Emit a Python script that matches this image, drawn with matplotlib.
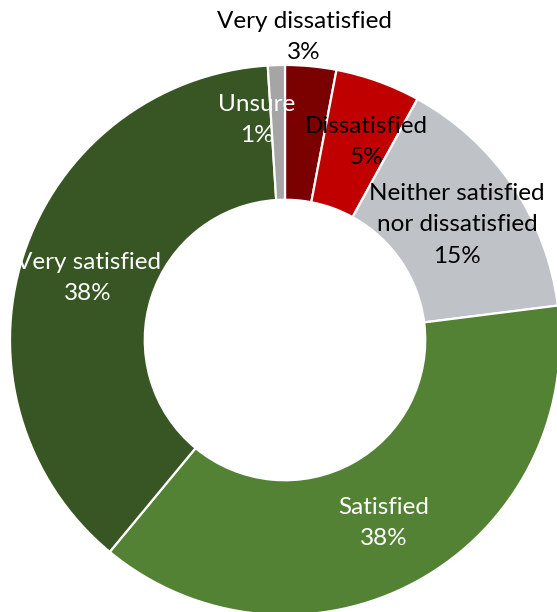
import numpy as np
import matplotlib
matplotlib.use("Agg")
import matplotlib.pyplot as plt

categories = ["Very dissatisfied", "Dissatisfied", "Neither satisfied\nnor dissatisfied",
              "Satisfied", "Very satisfied", "Unsure"]
values = [3, 5, 15, 38, 38, 1]
colors = ["#7B0000", "#C00000", "#BFC3C7", "#548235", "#375623", "#A5A5A5"]
text_colors = ["black", "black", "black", "white", "white", "white"]
label_dist = [1.104, 0.78, 0.752, 0.757, 0.751, 0.807]
label_angle_shift = [1.8, -2.6, -0.4, -0.4, 0.5, 5.5]  # degrees

plt.rcParams['font.family'] = ['Lato', 'DejaVu Sans']

W, H = 557, 612
fig = plt.figure(figsize=(W / 100, H / 100), dpi=100)
cx, cy, R = 285, 340, 275
ax = fig.add_axes([(cx - R) / W, (H - cy - R) / H, 2 * R / W, 2 * R / H])

wedges, _ = ax.pie(values, colors=colors, startangle=90, counterclock=False, radius=1.0,
                   wedgeprops=dict(width=0.49, edgecolor='white', linewidth=1.6))
for w in wedges:
    w.set_clip_on(False)
ax.set_xlim(-1, 1)
ax.set_ylim(-1, 1)
ax.set_aspect('equal')
ax.axis('off')

total = sum(values)
cum = 0
for i, v in enumerate(values):
    mid = 90 - 360 * (cum + v / 2) / total + label_angle_shift[i]
    cum += v
    r = label_dist[i]
    x = r * np.cos(np.radians(mid))
    y = r * np.sin(np.radians(mid))
    ax.text(x, y, f"{categories[i]}\n{v}%", ha='center', va='center',
            fontsize=17.5, color=text_colors[i], linespacing=1.6, clip_on=False)

fig.savefig("out.png", dpi=100)
